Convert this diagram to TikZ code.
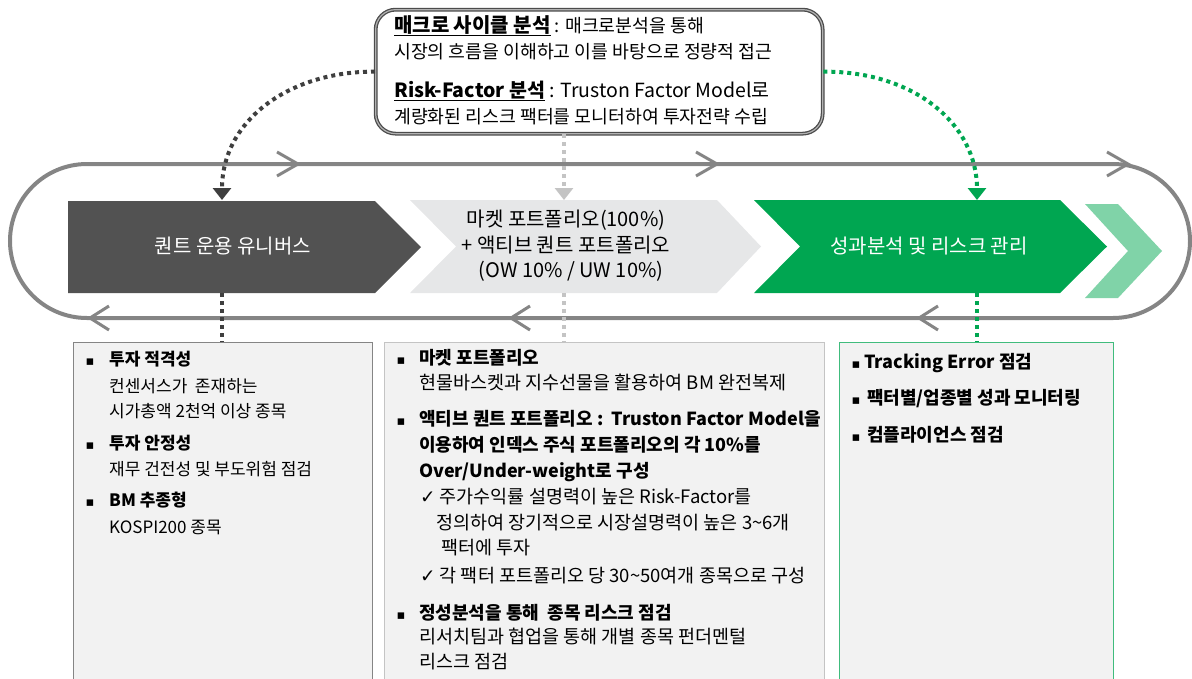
\documentclass[tikz,border=0pt]{standalone}
\usepackage{fontspec}
\setmainfont{Noto Sans CJK KR}
\newfontfamily\symfont{DejaVu Sans}
\usetikzlibrary{arrows.meta}

\definecolor{trackgray}{HTML}{858585}
\definecolor{darkarrow}{HTML}{525252}
\definecolor{lightarrow}{HTML}{E6E7E8}
\definecolor{tgreen}{HTML}{00A651}
\definecolor{lgreen}{HTML}{80D3A8}
\definecolor{boxfill}{HTML}{F2F2F2}
\definecolor{dotdark}{HTML}{3F3F3F}
\definecolor{dotlight}{HTML}{C4C4C4}

\tikzset{
  track/.style={draw=trackgray, line width=4pt},
  trackmark/.style={draw=trackgray, line width=3pt},
  dots/.style={line width=4pt, dash pattern=on 4pt off 4pt, -{Triangle[width=18pt,length=12pt]}},
  dotsplain/.style={line width=4pt, dash pattern=on 4pt off 4pt},
  topbox/.style={draw=black!70, double=black!30, double distance=1.2pt, line width=1.3pt, rounded corners=20pt, fill=white},
  listbox/.style={fill=boxfill, line width=1.2pt, anchor=north west, minimum height=345pt},
  txt/.style={anchor=base west, inner sep=0pt, text=black, font=\fontsize{17}{20}\selectfont},
  btxt/.style={txt, font=\bfseries\fontsize{17}{20}\selectfont},
  mtxt/.style={txt, font=\fontsize{18.5}{20}\selectfont},
  mbtxt/.style={txt, font=\bfseries\fontsize{18}{20}\selectfont},
  rtxt/.style={txt, font=\bfseries\fontsize{18}{20}\selectfont},
  toptxt/.style={txt, font=\fontsize{18.3}{20}\selectfont},
  bul/.style={anchor=base, inner sep=0pt, font=\symfont\fontsize{13}{15}\selectfont},
  chev/.style={align=center, inner sep=0pt, font=\fontsize{20}{25.5}\selectfont},
}

\begin{document}
\begin{tikzpicture}[x=1pt,y=-1pt]
\useasboundingbox (0,0) rectangle (1192,678);
\clip (0,0) rectangle (1192,678);

% track loop
\draw[track, rounded corners=77pt] (10,164) rectangle (1190,318);
\foreach \x in {298,717,1128}
  \draw[trackmark] (\x-21,152) -- (\x,164) -- (\x-21,176);
\foreach \x in {90,511,919}
  \draw[trackmark] (\x+19,306) -- (\x,318) -- (\x+19,330);

% process arrows
\fill[darkarrow] (68,201) -- (375,201) -- (421,247) -- (375,293) -- (68,293) -- cycle;
\fill[lightarrow] (410,200) -- (717,200) -- (761,246.5) -- (717,293) -- (410,293) -- (456,246.5) -- cycle;
\fill[tgreen] (754,200) -- (1060,200) -- (1107,246.5) -- (1060,293) -- (754,293) -- (800,246.5) -- cycle;
\fill[lgreen] (1085,204) -- (1118,204) -- (1162,251) -- (1118,298) -- (1085,298) -- (1128,251) -- cycle;

\node[chev, text=white] (univ) at (233,246) {퀀트 운용 유니버스};
\node[chev, text=black] (port) at (566,246) {마켓 포트폴리오(100\%)\\+ 액티브 퀀트 포트폴리오\\\hspace*{10pt}(OW 10\% / UW 10\%)};
\node[chev, text=white] (perf) at (929,246) {성과분석 및 리스크 관리};

\coordinate (univtop) at (222,200);
\coordinate (univbot) at (222,293);
\coordinate (porttop) at (564,200);
\coordinate (portbot) at (564,293);
\coordinate (perftop) at (977,200);
\coordinate (perfbot) at (977,293);

% top box
\node[topbox, minimum width=447pt, minimum height=124pt, anchor=north west] (macro) at (375,9) {};
\node[toptxt] (m1) at (394,32) {{\bfseries\fontsize{20}{22}\selectfont\underline{매크로 사이클 분석}} : 매크로분석을 통해};
\node[toptxt] (m2) at (394,58) {시장의 흐름을 이해하고 이를 바탕으로 정량적 접근};
\node[toptxt] (m3) at (394,97) {{\bfseries\fontsize{19.5}{22}\selectfont\underline{Risk-Factor 분석}} {\fontsize{19.5}{22}\selectfont: Truston Factor Model로}};
\node[toptxt] (m4) at (394,123) {계량화된 리스크 팩터를 모니터하여 투자전략 수립};

\draw[dots, dotdark] (macro.west) .. controls (290,71) and (222,120) .. (univtop);
\draw[dots, dotlight] (macro.south -| porttop) -- (porttop);
\draw[dots, tgreen] (macro.east) .. controls (915,71) and (977,125) .. (perftop);

% lower boxes
\node[listbox, draw=trackgray, minimum width=299pt] (unibox) at (73,342) {};
\node[listbox, draw=dotlight, minimum width=440pt] (portbox) at (384,342) {};
\node[listbox, draw=tgreen!75, minimum width=274pt] (perfbox) at (839,342) {};

\draw[dotsplain, dotdark] (univbot) -- (unibox.north -| univbot);
\draw[dotsplain, dotlight] (portbot) -- (portbox.north -| portbot);
\draw[dotsplain, tgreen] (perfbot) -- (perfbox.north -| perfbot);

% universe list
\node[bul] (ub1) at (90,365) {▪};
\node[btxt] (u1) at (109,365) {투자 적격성};
\node[txt] (u2) at (109,392) {컨센서스가\ \ 존재하는};
\node[txt] (u3) at (109,417) {시가총액 2천억 이상 종목};
\node[bul] (ub2) at (90,449) {▪};
\node[btxt] (u4) at (109,449) {투자 안정성};
\node[txt] (u5) at (109,475) {재무 건전성 및 부도위험 점검};
\node[bul] (ub3) at (90,506) {▪};
\node[btxt] (u6) at (109,506) {BM 추종형};
\node[txt] (u7) at (109,533) {KOSPI200 종목};

% portfolio list
\node[bul] (pb1) at (401,364) {▪};
\node[mbtxt] (p1) at (419,364) {마켓 포트폴리오};
\node[mtxt] (p2) at (419,389) {현물바스켓과 지수선물을 활용하여 BM 완전복제};
\node[bul] (pb2) at (401,425) {▪};
\node[mbtxt] (p3) at (419,425) {액티브 퀀트 포트폴리오 :\ \ Truston Factor Model을};
\node[mbtxt] (p4) at (419,451) {이용하여 인덱스 주식 포트폴리오의 각 10\%를};
\node[mbtxt] (p5) at (419,477) {Over/Under-weight로 구성};
\node[mtxt] (p6) at (420,503) {{\symfont ✓} 주가수익률 설명력이 높은 Risk-Factor를};
\node[mtxt] (p7) at (436,529) {정의하여 장기적으로 시장설명력이 높은 3\textasciitilde6개};
\node[mtxt] (p8) at (441,554) {팩터에 투자};
\node[mtxt] (p9) at (420,582) {{\symfont ✓} 각 팩터 포트폴리오 당 30\textasciitilde50여개 종목으로 구성};
\node[bul] (pb3) at (401,619) {▪};
\node[mbtxt] (p10) at (419,619) {정성분석을 통해\ \ 종목 리스크 점검};
\node[mtxt] (p11) at (419,643) {리서치팀과 협업을 통해 개별 종목 펀더멘털};
\node[mtxt] (p12) at (419,668) {리스크 점검};

% performance list
\node[bul] (rb1) at (856,368) {▪};
\node[rtxt] (r1) at (864,368) {Tracking Error 점검};
\node[bul] (rb2) at (856,404) {▪};
\node[rtxt] (r2) at (867,404) {팩터별/업종별 성과 모니터링};
\node[bul] (rb3) at (856,441) {▪};
\node[rtxt] (r3) at (867,441) {컴플라이언스 점검};
\end{tikzpicture}
\end{document}
